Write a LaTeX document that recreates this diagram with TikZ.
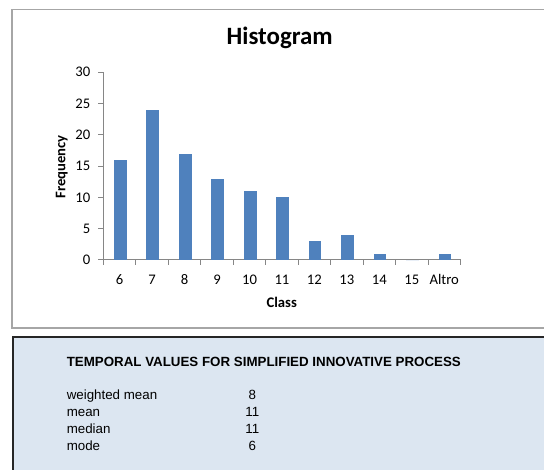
\documentclass[tikz,border=0pt]{standalone}
\usepackage{fontspec}
\setmainfont{Carlito}
\newfontfamily\arialfont{Liberation Sans}
\definecolor{barblue}{HTML}{4F81BD}
\definecolor{axisgrey}{HTML}{868686}
\definecolor{framegrey}{HTML}{A6A6A6}
\definecolor{panelblue}{HTML}{DCE6F1}
\begin{document}
\begin{tikzpicture}
[x=0.75pt,y=-0.75pt
,axis line/.style={draw=axisgrey,line width=0.75pt}
,tick label/.style={font=\fontsize{11}{13}\selectfont,inner sep=0pt}
,axis title/.style={font=\fontsize{11}{13}\selectfont\bfseries,inner sep=0pt}
,panel text/.style={font=\arialfont\fontsize{10}{12}\selectfont,inner sep=0pt}
]

\useasboundingbox (0,0) rectangle (544,470);
\clip (0,0) rectangle (544,470);

\draw[framegrey,line width=1pt] (12,9.5) rectangle (570,328);
\node[anchor=base,inner sep=0pt,font=\fontsize{18.7}{22}\selectfont\bfseries] (title) at (279.7,45) {Histogram};

\draw[axis line] (103.5,72.3) -- (103.5,260) -- (460.5,260);
\foreach \v [count=\k from 0] in {0,5,...,30} {
  \draw[axis line] (98,260-6.257*\v) -- (103.5,260-6.257*\v);
  \node[tick label,anchor=east] (ylbl\k) at (90.5,260-6.257*\v) {\v};
}
\foreach \k in {0,...,11} \draw[axis line] (103.5+32.45*\k,260) -- (103.5+32.45*\k,265.5);

\foreach \c/\h [count=\k from 0] in {6/16,7/24,8/17,9/13,10/11,11/10,12/3,13/4,14/1,15/0,Altro/1} {
  \fill[barblue] (103.5+32.45*\k+10.5,260) rectangle ++(12.7,-6.257*\h);
  \node[tick label,anchor=base] (xlbl\k) at (103.5+32.45*\k+16.2,284.3) {\c};
}

\node[axis title,anchor=base] (xtitle) at (281.7,307.3) {Class};
\node[axis title,anchor=base,rotate=90] (ytitle) at (65.3,166.7) {Frequency};

\draw[draw=black!85,fill=panelblue,line width=1.5pt] (12.7,337.5) rectangle (570,490);
\node[panel text,anchor=base west,font=\arialfont\fontsize{10}{12}\selectfont\bfseries] (heading) at (66.5,366.5) {TEMPORAL VALUES FOR SIMPLIFIED INNOVATIVE PROCESS};
\foreach \n/\w [count=\k from 0] in {weighted mean/8,mean/11,median/11,mode/6} {
  \node[panel text,anchor=base west] (name\k) at (66.5,400+16.8*\k) {\n};
  \node[panel text,anchor=base] (value\k) at (252.4,400+16.8*\k) {\w};
}
\end{tikzpicture}
\end{document}
